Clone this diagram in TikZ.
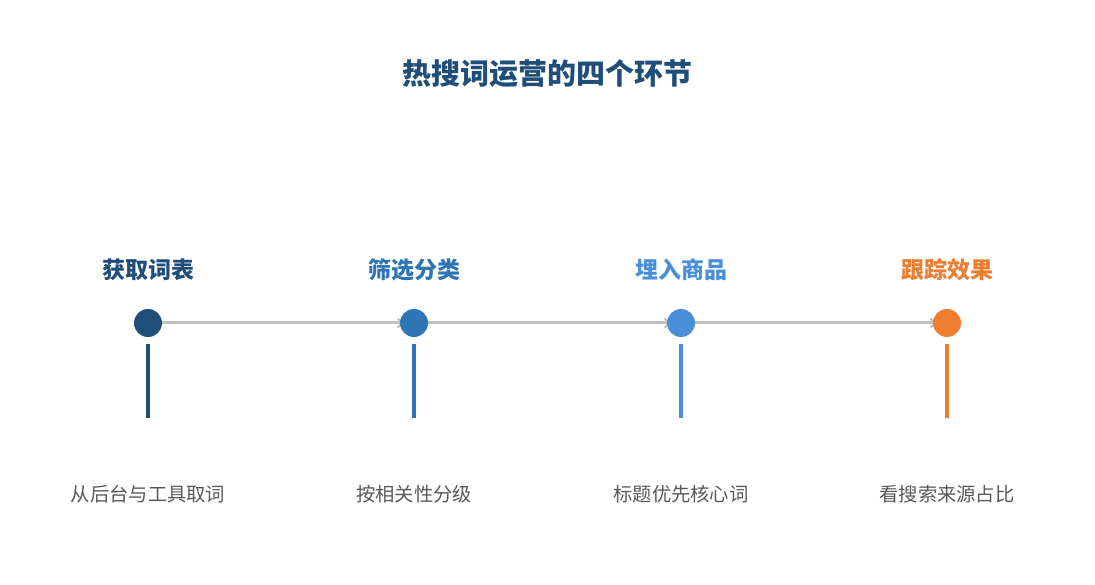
\documentclass[tikz,border=0pt]{standalone}
\usepackage{fontspec}
\setmainfont{Noto Sans CJK SC}
\usetikzlibrary{arrows.meta}
\definecolor{cA}{HTML}{1F4E79}
\definecolor{cB}{HTML}{2E75B6}
\definecolor{cC}{HTML}{4A90D9}
\definecolor{cD}{HTML}{ED7D31}
\definecolor{lineg}{HTML}{C0C0C0}
\definecolor{txtg}{HTML}{595959}
\tikzset{
  dot/.style={circle, fill=#1, minimum size=28pt, inner sep=0pt},
  head/.style={font=\fontsize{23}{26}\selectfont\bfseries, text=#1},
  desc/.style={font=\fontsize{19.3}{22}\selectfont, text=txtg},
  stem/.style={draw=#1, line width=3.2pt},
  flow/.style={draw=lineg, line width=3pt, -{Straight Barb[length=5pt,width=9pt,line width=2pt]}},
}
\begin{document}
\begin{tikzpicture}[x=1pt,y=-1pt]
\useasboundingbox (0,0) rectangle (1095,585);
\node[font=\fontsize{29}{33}\selectfont\bfseries, text=cA] (title) at (547,74) {热搜词运营的四个环节};
\foreach \n/\x/\c/\h/\d in {a/148/cA/获取词表/从后台与工具取词, b/414/cB/筛选分类/按相关性分级, c/681/cC/埋入商品/标题优先核心词, d/947/cD/跟踪效果/看搜索来源占比}{
  \node[head=\c] (h\n) at (\x,270) {\h};
  \node[desc] (t\n) at (\x,494) {\d};
  \coordinate (s\n) at (\x,344);
  \coordinate (e\n) at (\x,418);
  \draw[stem=\c] (s\n) -- (e\n);
}
\draw[flow] (148,323) -- (404,323);
\draw[flow] (414,323) -- (671,323);
\draw[flow] (681,323) -- (937,323);
\foreach \n/\x/\c in {a/148/cA, b/414/cB, c/681/cC, d/947/cD}{
  \node[dot=\c] (p\n) at (\x,323) {};
}
\end{tikzpicture}
\end{document}
